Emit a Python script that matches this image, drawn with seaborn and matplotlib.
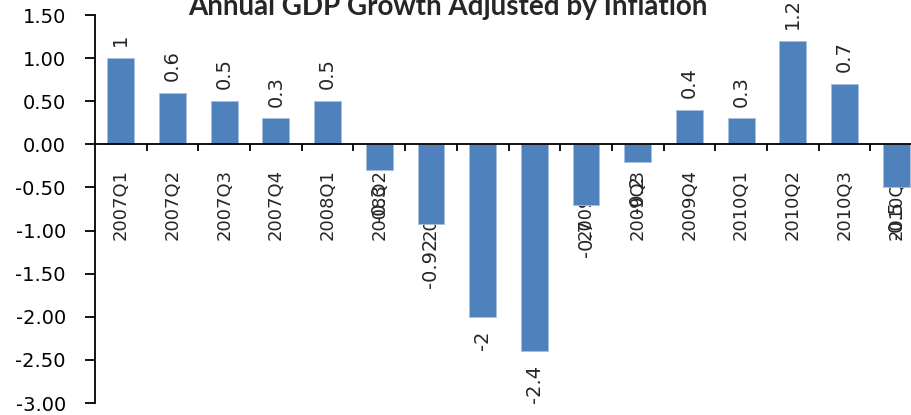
import matplotlib
matplotlib.use("Agg")
import matplotlib.pyplot as plt
from matplotlib.ticker import FixedLocator
import seaborn as sns
import pandas as pd

# Quarterly real GDP growth (%)
quarters = ["2007Q1", "2007Q2", "2007Q3", "2007Q4",
            "2008Q1", "2008Q2", "2008Q3", "2008Q4",
            "2009Q1", "2009Q2", "2009Q3", "2009Q4",
            "2010Q1", "2010Q2", "2010Q3", "2010Q4"]
growth = [1, 0.6, 0.5, 0.3,
          0.5, -0.3, -0.92, -2,
          -2.4, -0.7, -0.2, 0.4,
          0.3, 1.2, 0.7, -0.5]
y_ticks = [1.5, 1.0, 0.5, 0.0, -0.5, -1.0, -1.5, -2.0, -2.5, -3.0]
title = "Annual GDP Growth Adjusted by Inflation"

sns.set_style("white")
plt.rcParams["font.family"] = ["DejaVu Sans"]

df = pd.DataFrame({"quarter": quarters, "growth": growth})

fig = plt.figure(figsize=(9.12, 4.15), dpi=100)
ax = fig.add_axes([95 / 912, 1 - 403 / 415, 827 / 912, 388 / 415])

bar_color = "#4F81BD"
sns.barplot(data=df, x="quarter", y="growth", color=bar_color, saturation=1,
            width=0.52, edgecolor="#A7C0DE", linewidth=0.6, ax=ax)

ax.set_xlim(-0.5, len(quarters) - 0.5)
ax.set_ylim(-3.0, 1.5)
ax.set_xlabel("")
ax.set_ylabel("")

# Axes: y-axis on the left, x-axis crossing at zero
for side in ("top", "right"):
    ax.spines[side].set_visible(False)
ax.spines["left"].set_linewidth(1.3)
ax.spines["bottom"].set_linewidth(1.3)
ax.spines["left"].set_color("black")
ax.spines["bottom"].set_color("black")
ax.spines["bottom"].set_position(("data", 0))

ax.set_yticks(y_ticks)
ax.set_yticklabels([f"{t:.2f}" for t in y_ticks], fontsize=14)
ax.tick_params(axis="y", direction="out", length=7, width=1.3, pad=14,
               colors="black", left=True)

ax.set_xticks(range(len(quarters)))
ax.set_xticklabels(quarters, rotation=90, fontsize=13)
ax.tick_params(axis="x", which="major", length=0, pad=18)
ax.xaxis.set_minor_locator(FixedLocator([i + 0.5 for i in range(len(quarters))]))
ax.tick_params(axis="x", which="minor", direction="out", length=5, width=1.3,
               colors="black", bottom=True)

# Value labels at the end of each bar
for i, v in enumerate(growth):
    label = f"{v:g}"
    if v >= 0:
        ax.annotate(label, (i, v), xytext=(0, 8.5), textcoords="offset points",
                    rotation=90, ha="center", va="bottom", fontsize=14)
    else:
        ax.annotate(label, (i, v), xytext=(0, -10), textcoords="offset points",
                    rotation=90, ha="center", va="top", fontsize=14)

fig.text(448 / 912, 1 - 15 / 415, title, ha="center", va="baseline",
         fontsize=20, fontweight="bold", family=["Lato", "DejaVu Sans"])

fig.savefig("out.png", dpi=100, facecolor="white")
